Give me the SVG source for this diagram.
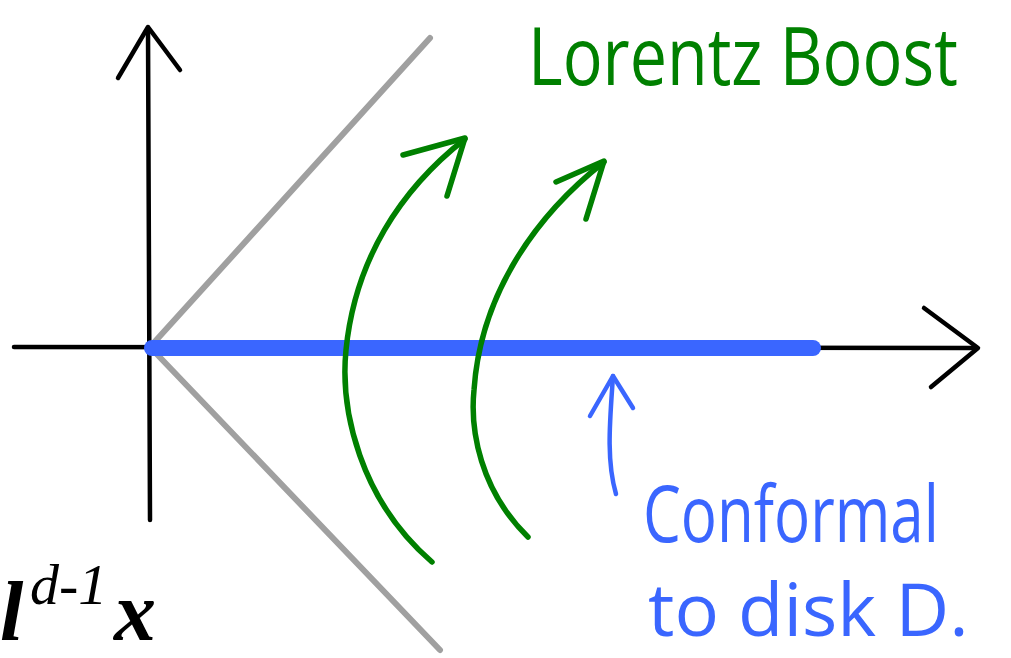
<svg xmlns="http://www.w3.org/2000/svg" width="1011" height="658" viewBox="0 0 1011 658">
<style>
.ax{stroke:#000;stroke-width:4.5;fill:none;stroke-linecap:round;stroke-linejoin:round}
.gr{stroke:#a0a0a0;stroke-width:6;fill:none;stroke-linecap:round}
.gn{stroke:#008000;stroke-width:5.5;fill:none;stroke-linecap:round;stroke-linejoin:round}
.bl{stroke:#3a66ff;fill:none;stroke-linecap:round;stroke-linejoin:round}
.tg{fill:#008000;font-family:"Open Sans","DejaVu Sans",sans-serif}
.tb{fill:#3a66ff;font-family:"Open Sans","DejaVu Sans",sans-serif}
.tk{fill:#000;font-family:"Liberation Serif",serif;font-style:italic}
</style>
<rect width="1011" height="658" fill="#fff"/>
<g id="axes">
<path class="ax" d="M150 520 L148 28"/>
<path class="ax" d="M118 78 L148 27 L180 70"/>
<path class="ax" d="M14 347 L976 348"/>
<path class="ax" d="M924 308 L978 348 L931 387"/>
</g>
<g id="lightcone">
<path class="gr" d="M150 347 L430 38"/>
<path class="gr" d="M150 347 L440 650"/>
</g>
<g id="segment">
<path class="bl" stroke-width="16" d="M152 348 L813 348"/>
</g>
<g id="connectors">
<path class="gn" d="M432 562 C360 500 340 410 346 350 C355 260 400 190 465 139"/>
<path class="gn" d="M403 155 L465 138 L447 196"/>
<path class="gn" d="M528 537 C480 490 470 430 474 390 C480 300 530 220 604 162"/>
<path class="gn" d="M556 182 L604 161 L586 219"/>
<path class="bl" stroke-width="4.5" d="M616 494 C606 460 610 420 613 376"/>
<path class="bl" stroke-width="4.5" d="M590 416 L613 376 L633 408"/>
</g>
<g id="labels">
<text class="tg" transform="translate(528,85) scale(0.83,1)" font-size="80">Lorentz Boost</text>
<text class="tb" transform="translate(643,542) scale(0.77,1)" font-size="78">Conformal</text>
<text class="tb" x="648" y="636" font-size="74">to disk D.</text>
<text class="tk" x="0" y="640" font-size="84" font-weight="bold">l</text>
<text class="tk" x="30" y="604" font-size="58">d-1</text>
<text class="tk" x="114" y="640" font-size="84" font-weight="bold">x</text>
</g>
</svg>
